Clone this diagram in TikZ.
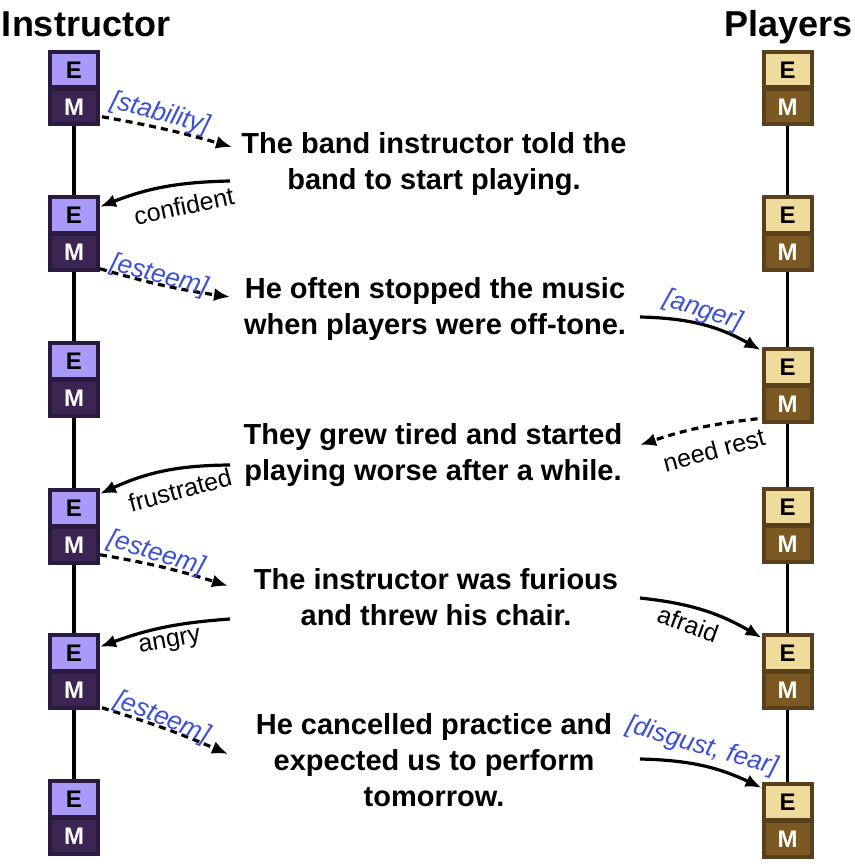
\documentclass[tikz,border=0pt]{standalone}
\usepackage{fontspec}
\setmainfont{Liberation Sans}
\usetikzlibrary{arrows.meta,calc}
\definecolor{lE}{HTML}{A99AF7}
\definecolor{lM}{HTML}{3D2553}
\definecolor{lB}{HTML}{2B1A3F}
\definecolor{rE}{HTML}{EFDB9C}
\definecolor{rM}{HTML}{7A5A22}
\definecolor{rB}{HTML}{59401A}
\definecolor{lblue}{HTML}{3A4FD6}
\begin{document}
\begin{tikzpicture}[x=1pt,y=1pt,
  boxbase/.style={draw, line width=4pt, minimum width=48pt, minimum height=35.5pt, inner sep=0pt, font=\bfseries\fontsize{24}{24}\selectfont},
  lboxE/.style={boxbase, draw=lB, fill=lE, text=black},
  lboxM/.style={boxbase, draw=lB, fill=lM, text=white},
  rboxE/.style={boxbase, draw=rB, fill=rE, text=black},
  rboxM/.style={boxbase, draw=rB, fill=rM, text=white},
  title/.style={font=\bfseries\fontsize{36}{40}\selectfont, inner sep=0pt, anchor=base},
  sentence/.style={font=\bfseries\fontsize{29}{36}\selectfont, align=center, inner sep=0pt, anchor=north},
  timeline/.style={line width=3.3pt, black},
  conn/.style={line width=3.2pt, black, -{Latex[length=16pt,width=13pt]}},
  dconn/.style={conn, dash pattern=on 7pt off 5pt},
  emo/.style={font=\fontsize{25}{25}\selectfont, inner sep=0pt},
  need/.style={font=\itshape\fontsize{26}{26}\selectfont, text=lblue, inner sep=0pt}
]
\useasboundingbox (0,0) rectangle (854,-864);

% titles
\node[title] (tinst) at (86,-37) {Instructor};
\node[title] (tplay) at (788.5,-37) {Players};

% instructor boxes
\foreach \i/\t in {1/50,2/195,3/341,4/488,5/633,6/779}{
  \node[lboxE] (LE\i) at (74,-\t-19.75) {E};
  \node[lboxM] (LM\i) at (74,-\t-56.75) {M};
}
% players boxes
\foreach \i/\t in {1/50,2/195,3/347,4/487,5/633,6/782}{
  \node[rboxE] (RE\i) at (787.5,-\t-19.75) {E};
  \node[rboxM] (RM\i) at (787.5,-\t-56.75) {M};
}
% timelines
\foreach \i/\j in {1/2,2/3,3/4,4/5,5/6}{
  \draw[timeline] (LM\i.south) -- (LE\j.north);
  \draw[timeline] (RM\i.south) -- (RE\j.north);
}

% sentences
\node[sentence] (s1) at (434,-132) {The band instructor told the\\band to start playing.};
\node[sentence] (s2) at (435,-277) {He often stopped the music\\when players were off-tone.};
\node[sentence] (s3) at (433,-423) {They grew tired and started\\playing worse after a while.};
\node[sentence] (s4) at (436,-568) {The instructor was furious\\and threw his chair.};
\node[sentence] (s5) at (434,-713) {He cancelled practice and\\expected us to perform\\tomorrow.};

% arrow free ends near the sentences
\coordinate (c1a) at (232,-147);
\coordinate (c1b) at (230,-181);
\coordinate (c2a) at (230,-297);
\coordinate (c2b) at (640,-317);
\coordinate (c3a) at (640,-445);
\coordinate (c3b) at (230,-465);
\coordinate (c4a) at (228,-586);
\coordinate (c4b) at (230,-619);
\coordinate (c4c) at (640,-598);
\coordinate (c5a) at (228,-754);
\coordinate (c5b) at (640,-759);

% connectors
\draw[dconn] ([shift={(2pt,-10pt)}]LM1.east) to[bend left=3] (c1a);
\draw[conn] (c1b) to[bend right=10] ([yshift=8pt]LE2.east);
\draw[dconn] ([yshift=-17pt]LM2.east) to[bend right=4] (c2a);
\draw[conn] (c2b) to[bend left=14] ([shift={(-1pt,-3pt)}]RE3.north west);
\draw[dconn] ([shift={(-4pt,-15pt)}]RM3.west) to[bend right=6] (c3a);
\draw[conn] (c3b) to[bend right=12] ([yshift=14pt]LE4.east);
\draw[dconn] ([yshift=-10pt]LM4.east) to[bend left=4] (c4a);
\draw[conn] (c4b) to[bend right=8] ([yshift=6pt]LE5.east);
\draw[conn] (c4c) to[bend left=12] ([yshift=15pt]RE5.west);
\draw[dconn] ([shift={(2pt,-18pt)}]LM5.east) to[bend left=3] (c5a);
\draw[conn] (c5b) to[bend left=12] ([yshift=14pt]RE6.west);

% connector labels
\node[need, rotate=-15] (l1) at (160,-114) {[stability]};
\node[emo, rotate=12] (l2) at (184,-206) {confident};
\node[need, rotate=-15] (l3) at (159,-276) {[esteem]};
\node[need, rotate=-18] (l4) at (703,-311) {[anger]};
\node[emo, rotate=15] (l5) at (714,-450) {need rest};
\node[emo, rotate=15] (l6) at (180,-490) {frustrated};
\node[need, rotate=-17] (l7) at (156,-554) {[esteem]};
\node[emo, rotate=10] (l8) at (170,-643) {angry};
\node[emo, rotate=-20] (l9) at (688,-624) {afraid};
\node[need, rotate=-22] (l10) at (162,-718) {[esteem]};
\node[need, rotate=-16] (l11) at (702,-747) {[disgust, fear]};
\end{tikzpicture}
\end{document}
